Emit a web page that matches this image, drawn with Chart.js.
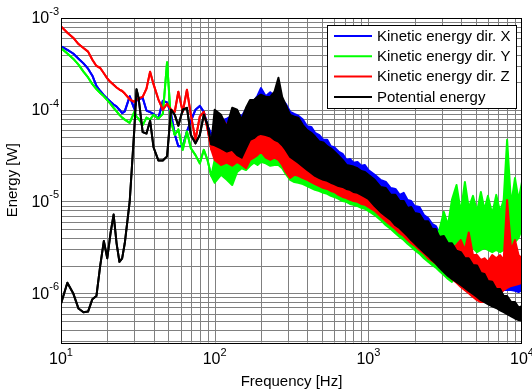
<!DOCTYPE html>
<html>
<head>
<meta charset="utf-8">
<script src="https://cdn.jsdelivr.net/npm/chart.js@4.4.0/dist/chart.umd.min.js"></script>
<style>
  body { margin: 0; background: #fff; }
  #wrap { width: 532px; height: 392px; }
</style>
</head>
<body>
<div id="wrap"><canvas id="energyChart" width="532" height="392"></canvas></div>
<script>
// Frequencias (Hz): parte de baixa frequencia (linhas limpas) e parte ruidosa (faixas)
const freqLow = [10, 11, 12, 13, 14, 15, 16, 17, 18, 19, 20, 21, 22, 23, 24, 25, 26, 28, 30, 31, 32, 34, 36, 38, 40,
  43, 46, 49, 52, 55, 58, 62, 66, 70, 75, 80, 85, 90, 95];
const freqHigh = [100, 110, 120, 130, 140, 150, 160, 170, 180, 190, 200, 215, 230, 245, 260, 275, 290, 310, 330, 350,
  375, 400, 425, 450, 480, 510, 540, 570, 600, 640, 680, 720, 760, 800, 850, 900, 950, 1000,
  1100, 1200, 1300, 1400, 1500, 1600, 1700, 1800, 1900, 2000, 2150, 2300, 2450, 2600, 2750, 2900,
  3100, 3300, 3500, 3750, 4000, 4250, 4500, 4800, 5100, 5400, 5700, 6000, 6400, 6800, 7200, 7600,
  8000, 8500, 9000, 9500, 10000];

// Energia cinetica X (azul)
const kinXLine = [4.9e-4, 4.5e-4, 4.1e-4, 3.6e-4, 3.2e-4, 2.8e-4, 2.35e-4, 1.82e-4, 1.6e-4, 1.44e-4, 1.32e-4, 1.22e-4,
  1.14e-4, 1.08e-4, 1.0e-4, 9.2e-5, 9.6e-5, 1.4e-4, 1.02e-4, 1.26e-4, 1.3e-4, 1.35e-4, 9.8e-5, 9.4e-5, 9.0e-5,
  8.0e-5, 1.25e-4, 1.2e-4, 9.0e-5, 5.4e-5, 4.0e-5, 4.0e-5, 5.8e-5, 7.5e-5, 1.0e-4, 1.1e-4, 9.5e-5, 6.6e-5, 5.4e-5];
const kinXHi = [6.3e-5, 7.6e-5, 8.0e-5, 8.6e-5, 9.2e-5, 8.5e-5, 1.02e-4, 1.1e-4, 1.25e-4, 1.42e-4, 1.72e-4, 1.4e-4,
  1.55e-4, 1.4e-4, 1.48e-4, 1.3e-4, 1.16e-4, 9.5e-5, 9.0e-5, 8.6e-5, 7.8e-5, 6.6e-5, 6.5e-5, 5.6e-5, 5.3e-5, 4.7e-5,
  4.7e-5, 4.0e-5, 3.9e-5, 3.5e-5, 3.3e-5, 2.84e-5, 2.9e-5, 2.65e-5, 2.7e-5, 2.45e-5, 2.5e-5, 2.2e-5,
  1.95e-5, 1.72e-5, 1.63e-5, 1.4e-5, 1.37e-5, 1.18e-5, 1.24e-5, 1.04e-5, 1.01e-5, 8.9e-6, 8.7e-6, 7.1e-6, 6.6e-6,
  5.7e-6, 5.4e-6, 4.5e-6, 4.2e-6, 3.7e-6, 3.45e-6, 3.1e-6, 2.9e-6, 2.8e-6, 2.75e-6, 2.6e-6, 2.3e-6, 2.1e-6,
  2.2e-6, 2.0e-6, 2.3e-6, 2.2e-6, 2.3e-6, 2.1e-6, 2.6e-6, 2.4e-6, 2.3e-6, 2.2e-6, 2.1e-6];
const kinXLo = [4.1e-5, 3.8e-5, 3.65e-5, 3.2e-5, 3.0e-5, 2.84e-5, 3.0e-5, 3.65e-5, 4.1e-5, 4.7e-5, 4.9e-5, 4.9e-5,
  4.7e-5, 4.4e-5, 4.1e-5, 3.8e-5, 3.5e-5, 3.0e-5, 2.7e-5, 2.5e-5, 2.3e-5, 2.1e-5, 1.95e-5, 1.8e-5, 1.72e-5, 1.63e-5,
  1.6e-5, 1.55e-5, 1.47e-5, 1.4e-5, 1.37e-5, 1.34e-5, 1.27e-5, 1.24e-5, 1.18e-5, 1.12e-5, 1.07e-5, 1.04e-5,
  8.9e-6, 7.7e-6, 6.9e-6, 6.3e-6, 5.5e-6, 5.1e-6, 4.6e-6, 4.2e-6, 3.8e-6, 3.5e-6, 3.1e-6, 2.8e-6, 2.55e-6, 2.3e-6,
  2.1e-6, 1.9e-6, 1.7e-6, 1.54e-6, 1.43e-6, 1.33e-6, 1.23e-6, 1.14e-6, 1.08e-6, 1.03e-6, 1.0e-6, 9.8e-7, 9.5e-7,
  1.0e-6, 1.0e-6, 1.03e-6, 1.03e-6, 1.08e-6, 1.08e-6, 1.08e-6, 1.06e-6, 1.03e-6, 1.08e-6];

// Energia cinetica Y (verde)
const kinYLine = [4.7e-4, 4.1e-4, 3.6e-4, 3.1e-4, 2.6e-4, 2.25e-4, 1.9e-4, 1.68e-4, 1.52e-4, 1.4e-4, 1.27e-4, 1.16e-4,
  1.05e-4, 9.6e-5, 8.8e-5, 8.2e-5, 7.8e-5, 7.2e-5, 9.5e-5, 8.4e-5, 8.0e-5, 6.8e-5, 8.2e-5, 7.8e-5, 8.8e-5,
  8.0e-5, 9.0e-5, 3.3e-4, 7.4e-5, 5.3e-5, 6.1e-5, 3.65e-5, 5.8e-5, 3.8e-5, 3.2e-5, 2.6e-5, 3.65e-5, 2.8e-5, 1.9e-5];
const kinYHi = [2.84e-5, 3.65e-5, 3.2e-5, 3.65e-5, 5.3e-5, 7.4e-5, 6.8e-5, 6.3e-5, 6.8e-5, 7.8e-5, 8.2e-5, 7.8e-5,
  8.8e-5, 6.8e-5, 6.3e-5, 5.8e-5, 4.9e-5, 4.1e-5, 3.8e-5, 3.65e-5, 3.2e-5, 3.0e-5, 2.84e-5, 2.65e-5, 2.5e-5, 2.4e-5,
  2.2e-5, 2.1e-5, 2.0e-5, 1.9e-5, 1.8e-5, 1.72e-5, 1.63e-5, 1.6e-5, 1.51e-5, 1.44e-5, 1.4e-5, 1.34e-5,
  1.27e-5, 1.18e-5, 1.09e-5, 1.01e-5, 9.2e-6, 8.5e-6, 7.9e-6, 7.3e-6, 6.8e-6, 6.3e-6, 5.7e-6, 5.1e-6, 4.6e-6,
  4.2e-6, 4.0e-6, 4.9e-6, 7.7e-6, 5.5e-6, 1.04e-5, 1.51e-5, 7.7e-6, 1.63e-5, 8.5e-6, 1.15e-5, 7.7e-6, 1.27e-5,
  8.1e-6, 1.15e-5, 7.3e-6, 1.18e-5, 7.7e-6, 1.04e-5, 4.7e-5, 9.2e-6, 1.8e-5, 1.04e-5, 1.63e-5];
const kinYLo = [1.6e-5, 1.95e-5, 1.72e-5, 1.51e-5, 2.1e-5, 2.3e-5, 2.2e-5, 2.45e-5, 2.65e-5, 2.5e-5, 2.7e-5, 2.6e-5,
  2.45e-5, 2.5e-5, 2.5e-5, 2.3e-5, 2.0e-5, 1.72e-5, 1.63e-5, 1.6e-5, 1.55e-5, 1.47e-5, 1.4e-5, 1.34e-5, 1.3e-5,
  1.24e-5, 1.21e-5, 1.15e-5, 1.12e-5, 1.07e-5, 1.01e-5, 9.9e-6, 9.4e-6, 9.2e-6, 8.9e-6, 8.5e-6, 8.3e-6, 7.9e-6,
  7.1e-6, 6.3e-6, 5.5e-6, 5.0e-6, 4.5e-6, 4.1e-6, 3.8e-6, 3.45e-6, 3.2e-6, 2.96e-6, 2.7e-6, 2.4e-6, 2.2e-6, 2.03e-6,
  1.9e-6, 1.75e-6, 1.58e-6, 1.43e-6, 1.33e-6, 2.2e-6, 2.96e-6, 3.35e-6, 3.6e-6, 3.1e-6, 2.8e-6, 2.96e-6, 3.1e-6,
  2.96e-6, 2.8e-6, 2.96e-6, 2.8e-6, 2.96e-6, 3.1e-6, 3.35e-6, 3.6e-6, 4.0e-6, 5.1e-6];

// Energia cinetica Z (vermelho)
const kinZLine = [8.1e-4, 6.9e-4, 6.1e-4, 5.2e-4, 4.7e-4, 4.3e-4, 3.5e-4, 3.0e-4, 2.85e-4, 2.5e-4, 2.2e-4, 2.0e-4,
  1.87e-4, 1.75e-4, 1.66e-4, 1.6e-4, 1.5e-4, 1.3e-4, 1.22e-4, 1.28e-4, 1.33e-4, 1.38e-4, 1.7e-4, 2.6e-4, 1.9e-4,
  1.3e-4, 1.0e-4, 1.16e-4, 1.0e-4, 9.5e-5, 1.57e-4, 9.5e-5, 1.65e-4, 8.8e-5, 4.7e-5, 8.4e-5, 9.5e-5, 6.1e-5, 3.7e-5];
const kinZHi = [5.3e-5, 8.2e-5, 6.8e-5, 6.0e-5, 6.8e-5, 7.8e-5, 8.2e-5, 8.8e-5, 8.8e-5, 1.0e-4, 1.05e-4, 9.5e-5,
  1.0e-4, 8.8e-5, 7.8e-5, 6.8e-5, 6.0e-5, 4.9e-5, 4.7e-5, 4.5e-5, 4.1e-5, 3.65e-5, 3.5e-5, 3.2e-5, 3.0e-5, 2.84e-5,
  2.65e-5, 2.5e-5, 2.4e-5, 2.2e-5, 2.1e-5, 2.0e-5, 1.9e-5, 1.85e-5, 1.77e-5, 1.68e-5, 1.6e-5, 1.51e-5,
  1.4e-5, 1.3e-5, 1.21e-5, 1.12e-5, 1.01e-5, 9.4e-6, 8.7e-6, 8.1e-6, 7.5e-6, 6.9e-6, 6.3e-6, 5.7e-6, 5.1e-6, 4.6e-6,
  4.2e-6, 3.8e-6, 3.8e-6, 3.35e-6, 3.1e-6, 3.35e-6, 3.8e-6, 2.96e-6, 4.6e-6, 2.6e-6, 2.6e-6, 2.3e-6, 2.4e-6,
  2.2e-6, 2.6e-6, 2.4e-6, 2.6e-6, 2.3e-6, 1.04e-5, 2.96e-6, 3.8e-6, 2.6e-6, 2.4e-6];
const kinZLo = [2.84e-5, 2.5e-5, 2.65e-5, 2.45e-5, 2.7e-5, 2.5e-5, 2.3e-5, 2.84e-5, 3.0e-5, 3.2e-5, 3.5e-5, 3.0e-5,
  2.84e-5, 3.0e-5, 2.84e-5, 2.5e-5, 2.1e-5, 1.8e-5, 1.95e-5, 1.9e-5, 1.8e-5, 1.72e-5, 1.63e-5, 1.55e-5, 1.47e-5,
  1.4e-5, 1.37e-5, 1.3e-5, 1.27e-5, 1.18e-5, 1.12e-5, 1.09e-5, 1.04e-5, 1.01e-5, 9.9e-6, 9.4e-6, 9.2e-6, 8.7e-6,
  7.9e-6, 6.9e-6, 6.1e-6, 5.5e-6, 5.0e-6, 4.5e-6, 4.2e-6, 3.8e-6, 3.5e-6, 3.3e-6, 2.96e-6, 2.7e-6, 2.4e-6, 2.25e-6,
  2.1e-6, 1.95e-6, 1.75e-6, 1.58e-6, 1.43e-6, 1.3e-6, 1.17e-6, 1.08e-6, 1.0e-6, 9.1e-7, 8.4e-7, 8.0e-7, 8.0e-7,
  8.4e-7, 8.8e-7, 9.3e-7, 1.0e-6, 1.08e-6, 1.14e-6, 1.2e-6, 1.23e-6, 1.26e-6, 1.3e-6];

// Energia potencial (preto)
const potLine = [7.7e-7, 1.3e-6, 1.0e-6, 6.8e-7, 6.2e-7, 6.3e-7, 8.6e-7, 9.3e-7, 2.0e-6, 3.7e-6, 2.4e-6, 4.5e-6,
  7.2e-6, 3.5e-6, 2.2e-6, 2.4e-6, 3.5e-6, 1.0e-5, 6.1e-5, 1.67e-4, 1.34e-4, 5.7e-5, 5.5e-5, 7.6e-5, 3.9e-5,
  2.8e-5, 2.8e-5, 3.1e-5, 1.0e-4, 8.8e-5, 6.7e-5, 1.0e-4, 1.05e-4, 5.3e-5, 4.3e-5, 5.3e-5, 8.8e-5, 6.8e-5, 4.2e-5];
const potHi = [1.0e-4, 8.8e-5, 6.5e-5, 1.05e-4, 1.0e-4, 7.8e-5, 1.05e-4, 1.28e-4, 1.28e-4, 1.38e-4, 1.46e-4, 1.38e-4,
  1.38e-4, 1.57e-4, 2.23e-4, 1.38e-4, 1.13e-4, 8.8e-5, 8.4e-5, 8.2e-5, 6.8e-5, 6.0e-5, 5.6e-5, 5.1e-5, 4.5e-5,
  4.4e-5, 4.0e-5, 3.8e-5, 3.5e-5, 3.15e-5, 2.84e-5, 2.5e-5, 2.45e-5, 2.4e-5, 2.3e-5, 2.15e-5, 2.1e-5, 1.95e-5,
  1.72e-5, 1.44e-5, 1.4e-5, 1.18e-5, 1.18e-5, 1.01e-5, 1.01e-5, 8.5e-6, 8.7e-6, 7.5e-6, 7.3e-6, 6.1e-6, 6.1e-6,
  5.0e-6, 5.0e-6, 4.1e-6, 4.2e-6, 3.5e-6, 3.5e-6, 2.9e-6, 2.8e-6, 2.4e-6, 2.4e-6, 2.03e-6, 2.0e-6, 1.66e-6,
  1.62e-6, 1.36e-6, 1.33e-6, 1.11e-6, 1.11e-6, 9.3e-7, 9.3e-7, 8.0e-7, 8.0e-7, 7.0e-7, 7.2e-7];
const potLo = [4.1e-5, 3.8e-5, 3.5e-5, 3.65e-5, 3.2e-5, 3.0e-5, 3.8e-5, 4.7e-5, 4.9e-5, 5.3e-5, 5.45e-5, 5.3e-5,
  5.1e-5, 4.7e-5, 4.5e-5, 4.1e-5, 3.65e-5, 3.05e-5, 2.84e-5, 2.65e-5, 2.4e-5, 2.2e-5, 2.05e-5, 1.9e-5, 1.8e-5,
  1.72e-5, 1.68e-5, 1.6e-5, 1.55e-5, 1.47e-5, 1.44e-5, 1.37e-5, 1.34e-5, 1.27e-5, 1.24e-5, 1.18e-5, 1.12e-5, 1.07e-5,
  8.9e-6, 7.7e-6, 6.9e-6, 6.3e-6, 5.5e-6, 5.1e-6, 4.6e-6, 4.2e-6, 3.8e-6, 3.5e-6, 3.1e-6, 2.8e-6, 2.55e-6, 2.3e-6,
  2.1e-6, 1.9e-6, 1.7e-6, 1.54e-6, 1.43e-6, 1.33e-6, 1.23e-6, 1.14e-6, 1.06e-6, 9.8e-7, 9.1e-7, 8.4e-7, 8.0e-7,
  7.6e-7, 7.2e-7, 6.9e-7, 6.5e-7, 6.2e-7, 5.9e-7, 5.6e-7, 5.3e-7, 5.1e-7, 5.0e-7];

const seriesNames = ['Kinetic energy dir. X', 'Kinetic energy dir. Y', 'Kinetic energy dir. Z', 'Potential energy'];
const seriesColors = ['#0000ff', '#00ff00', '#ff0000', '#000000'];
const xTickExp = [1, 2, 3, 4];
const yTickExp = [-6, -5, -4, -3];

const FONT = '"Liberation Sans", Arial, Helvetica, sans-serif';

// monta os pontos de cima e de baixo de cada serie
function buildPoints(line, edge) {
  const pts = freqLow.map((f, i) => ({ x: f, y: line[i] }));
  return pts.concat(freqHigh.map((f, i) => ({ x: f, y: edge[i] })));
}

const seriesData = [
  { line: kinXLine, hi: kinXHi, lo: kinXLo, order: 3 },
  { line: kinYLine, hi: kinYHi, lo: kinYLo, order: 2 },
  { line: kinZLine, hi: kinZHi, lo: kinZLo, order: 1 },
  { line: potLine, hi: potHi, lo: potLo, order: 0 }
];

const datasets = [];
seriesData.forEach((s, k) => {
  const color = seriesColors[k];
  datasets.push({
    label: seriesNames[k],
    data: buildPoints(s.line, s.hi),
    borderColor: color,
    backgroundColor: color,
    borderWidth: 2,
    borderJoinStyle: 'round',
    pointRadius: 0,
    fill: '+1',
    order: s.order
  });
  datasets.push({
    label: seriesNames[k] + ' min',
    data: buildPoints(s.line, s.lo),
    borderColor: color,
    borderWidth: 2,
    borderJoinStyle: 'round',
    pointRadius: 0,
    fill: false,
    order: s.order
  });
});

// grade, eixos, rotulos e legenda no estilo MATLAB
function drawPow(ctx, exp, x, y, align) {
  const base = '10';
  const sup = String(exp);
  ctx.font = '16px ' + FONT;
  const wb = ctx.measureText(base).width;
  ctx.font = '11px ' + FONT;
  const ws = ctx.measureText(sup).width;
  let left = align === 'right' ? x - wb - ws : x - (wb + ws) / 2;
  const baseY = align === 'right' ? y + 1 : y;
  const supY = baseY - 7;
  ctx.textAlign = 'left';
  ctx.textBaseline = 'middle';
  ctx.font = '16px ' + FONT;
  ctx.fillText(base, left, baseY);
  ctx.font = '11px ' + FONT;
  ctx.fillText(sup, left + wb, supY);
}

const matlabFrame = {
  id: 'matlabFrame',
  beforeDatasetsDraw(chart) {
    const { ctx, chartArea: a, scales: { x, y } } = chart;
    ctx.save();
    ctx.strokeStyle = '#808080';
    ctx.lineWidth = 1;
    ctx.beginPath();
    for (let e = 1; e <= 4; e++) {
      for (let m = 1; m <= 9; m++) {
        const v = m * Math.pow(10, e);
        if (v <= x.min || v >= x.max) continue;
        const px = Math.round(x.getPixelForValue(v)) + 0.5;
        ctx.moveTo(px, a.top);
        ctx.lineTo(px, a.bottom);
      }
    }
    for (let e = -7; e <= -3; e++) {
      for (let m = 1; m <= 9; m++) {
        const v = m * Math.pow(10, e);
        if (v <= y.min || v >= y.max) continue;
        const py = Math.round(y.getPixelForValue(v)) + 0.5;
        ctx.moveTo(a.left, py);
        ctx.lineTo(a.right, py);
      }
    }
    ctx.stroke();
    ctx.restore();
  },
  afterDatasetsDraw(chart) {
    const { ctx, chartArea: a, scales: { x, y } } = chart;
    ctx.save();
    // caixa do grafico
    ctx.strokeStyle = '#000';
    ctx.lineWidth = 1;
    ctx.strokeRect(Math.round(a.left) + 0.5, Math.round(a.top) + 0.5,
      Math.round(a.right - a.left) - 1, Math.round(a.bottom - a.top));

    ctx.fillStyle = '#000';
    xTickExp.forEach(e => drawPow(ctx, e, x.getPixelForValue(Math.pow(10, e)), a.bottom + 17, 'center'));
    yTickExp.forEach(e => drawPow(ctx, e, a.left - 2, y.getPixelForValue(Math.pow(10, e)), 'right'));

    // titulos dos eixos
    ctx.font = '15px ' + FONT;
    ctx.textAlign = 'center';
    ctx.textBaseline = 'middle';
    ctx.fillText('Frequency [Hz]', (a.left + a.right) / 2, 382);
    ctx.save();
    ctx.translate(13, (a.top + a.bottom) / 2);
    ctx.rotate(-Math.PI / 2);
    ctx.fillText('Energy [W]', 0, 0);
    ctx.restore();

    // legenda
    const lx = 327.5, ly = 25.5, lw = 189, lh = 83;
    ctx.fillStyle = '#fff';
    ctx.fillRect(lx, ly, lw, lh);
    ctx.strokeStyle = '#000';
    ctx.strokeRect(lx, ly, lw, lh);
    ctx.font = '15px ' + FONT;
    ctx.textAlign = 'left';
    seriesNames.forEach((name, k) => {
      const ry = 36 + k * 20.3;
      ctx.strokeStyle = seriesColors[k];
      ctx.lineWidth = 2;
      ctx.beginPath();
      ctx.moveTo(334, ry);
      ctx.lineTo(372, ry);
      ctx.stroke();
      ctx.fillStyle = '#000';
      ctx.fillText(name, 377, ry + 0.5);
    });
    ctx.restore();
  }
};

new Chart(document.getElementById('energyChart'), {
  type: 'line',
  data: { datasets: datasets },
  options: {
    responsive: false,
    animation: false,
    layout: { padding: { left: 61, right: 10, top: 18, bottom: 49.5 } },
    scales: {
      x: { type: 'logarithmic', min: 10, max: 10000, display: false },
      y: { type: 'logarithmic', min: 2.9e-7, max: 1e-3, display: false }
    },
    plugins: {
      legend: { display: false },
      tooltip: { enabled: false }
    }
  },
  plugins: [matlabFrame]
});
</script>
</body>
</html>
